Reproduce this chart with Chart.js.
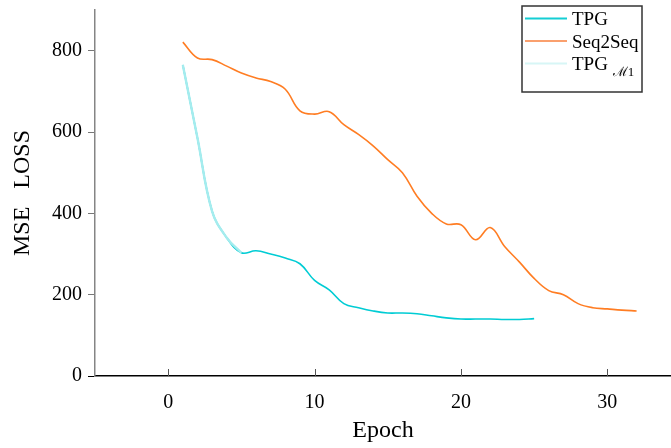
<!DOCTYPE html>
<html>
<head>
<meta charset="utf-8">
<script src="https://cdn.jsdelivr.net/npm/chart.js@4.4.1/dist/chart.umd.min.js"></script>
<style>
  html, body { margin: 0; padding: 0; background: #fff; }
  #wrap { width: 671px; height: 448px; }
</style>
</head>
<body>
<div id="wrap"><canvas id="lossChart" width="671" height="448"></canvas></div>
<script>
// MSE loss per epoch
const epochsTpg = [1, 2, 3, 4, 5, 6, 7, 8, 9, 10, 11, 12, 13, 14, 15, 16, 17, 18, 19, 20, 21, 22, 23, 24, 25];
const tpgLoss = [765, 585, 405, 340, 303, 308, 300, 290, 276, 235, 212, 178, 168, 160, 155, 155, 153, 148, 143, 140, 140, 140, 139, 139, 141];

const epochsSeq = [1, 2, 3, 4, 5, 6, 7, 8, 9, 10, 11, 12, 13, 14, 15, 16, 17, 18, 19, 20, 21, 22, 23, 24, 25, 26, 27, 28, 29, 30, 31, 32];
const seq2seqLoss = [821, 782, 778, 762, 745, 733, 724, 705, 652, 644, 650, 618, 594, 566, 532, 500, 442, 400, 374, 372, 335, 365, 318, 280, 240, 210, 200, 178, 168, 165, 162, 160];

const epochsM1 = [1, 2, 3, 4, 5];
const tpgM1Loss = [765, 585, 405, 340, 303];

const xTicks = [0, 10, 20, 30];
const yTicks = [0, 200, 400, 600, 800];

const FONT = "'Liberation Serif', 'Times New Roman', serif";

function toPoints(xs, ys) {
  return xs.map((x, i) => ({ x: x, y: ys[i] }));
}

const seriesInfo = [
  { label: 'TPG', color: 'rgb(0, 204, 212)', legendColor: 'rgb(20, 206, 212)' },
  { label: 'Seq2Seq', color: 'rgb(255, 125, 35)', legendColor: 'rgb(250, 160, 110)' },
  { label: 'TPG', sub: '\u21331', color: 'rgb(165, 236, 238)', legendColor: 'rgb(215, 246, 246)' }
];

// Legend box drawn inside the plot, top right
const boxLegend = {
  id: 'boxLegend',
  afterDraw(chart) {
    const ctx = chart.ctx;
    const x0 = 522, y0 = 6, w = 120, h = 86;
    ctx.save();
    ctx.strokeStyle = '#333';
    ctx.lineWidth = 1.5;
    ctx.strokeRect(x0, y0, w, h);
    ctx.textBaseline = 'alphabetic';
    ctx.textAlign = 'left';
    seriesInfo.forEach((s, i) => {
      const base = 25 + i * 22.5;
      ctx.strokeStyle = s.legendColor;
      ctx.lineWidth = 2;
      ctx.beginPath();
      ctx.moveTo(525, base - 6.5);
      ctx.lineTo(567, base - 6.5);
      ctx.stroke();
      ctx.fillStyle = '#000';
      ctx.font = '19px ' + FONT;
      ctx.fillText(s.label, 572, base);
      if (s.sub) {
        const tw = ctx.measureText(s.label + ' ').width;
        ctx.font = '13px ' + FONT;
        ctx.fillText(s.sub, 572 + tw, base + 6);
      }
    });
    ctx.restore();
  }
};

// x-axis tick marks point inward
const innerXTicks = {
  id: 'innerXTicks',
  afterDraw(chart) {
    const ctx = chart.ctx;
    const xs = chart.scales.x;
    const bottom = chart.chartArea.bottom;
    ctx.save();
    ctx.strokeStyle = '#555';
    ctx.lineWidth = 1;
    xTicks.forEach(v => {
      const px = Math.round(xs.getPixelForValue(v)) + 0.5;
      ctx.beginPath();
      ctx.moveTo(px, bottom);
      ctx.lineTo(px, bottom - 7);
      ctx.stroke();
    });
    ctx.restore();
  }
};

new Chart(document.getElementById('lossChart').getContext('2d'), {
  type: 'line',
  data: {
    datasets: [
      {
        label: 'TPG',
        data: toPoints(epochsTpg, tpgLoss),
        borderColor: seriesInfo[0].color,
        borderWidth: 1.6,
        pointRadius: 0,
        tension: 0.4,
        fill: false,
        order: 1
      },
      {
        label: 'Seq2Seq',
        data: toPoints(epochsSeq, seq2seqLoss),
        borderColor: seriesInfo[1].color,
        borderWidth: 1.6,
        pointRadius: 0,
        tension: 0.4,
        fill: false,
        order: 2
      },
      {
        label: 'TPG M1',
        data: toPoints(epochsM1, tpgM1Loss),
        borderColor: seriesInfo[2].color,
        borderWidth: 2.4,
        pointRadius: 0,
        tension: 0.4,
        fill: false,
        order: 0
      }
    ]
  },
  options: {
    responsive: false,
    animation: false,
    devicePixelRatio: 1,
    layout: { padding: { top: 10, right: 0, left: 0, bottom: 0 } },
    plugins: {
      legend: { display: false },
      tooltip: { enabled: false }
    },
    scales: {
      x: {
        type: 'linear',
        min: -5,
        max: 34.35,
        afterBuildTicks: axis => { axis.ticks = xTicks.map(v => ({ value: v })); },
        afterFit: axis => { axis.height = 72; axis.paddingLeft = 0; axis.paddingRight = 0; },
        grid: { display: false },
        border: { display: true, color: '#000', width: 1.5 },
        ticks: {
          color: '#000',
          padding: 7,
          maxRotation: 0,
          font: { family: FONT, size: 20 }
        },
        title: {
          display: true,
          text: 'Epoch',
          color: '#000',
          font: { family: FONT, size: 24 },
          padding: { top: 0, bottom: 3 }
        }
      },
      y: {
        min: 0,
        max: 900,
        afterBuildTicks: axis => { axis.ticks = yTicks.map(v => ({ value: v })); },
        afterFit: axis => { axis.width = 95; axis.paddingTop = 0; axis.paddingBottom = 0; },
        grid: {
          drawOnChartArea: false,
          drawTicks: true,
          tickLength: 7,
          color: ctx => (ctx.tick && ctx.tick.value === 0 ? '#000' : '#777')
        },
        border: { display: true, color: '#858585', width: 1.5 },
        ticks: {
          color: '#000',
          padding: 6,
          font: { family: FONT, size: 20 }
        },
        title: {
          display: true,
          text: 'MSE   LOSS',
          color: '#000',
          font: { family: FONT, size: 24 },
          padding: { top: 8, bottom: 0 }
        }
      }
    }
  },
  plugins: [boxLegend, innerXTicks]
});
</script>
</body>
</html>
